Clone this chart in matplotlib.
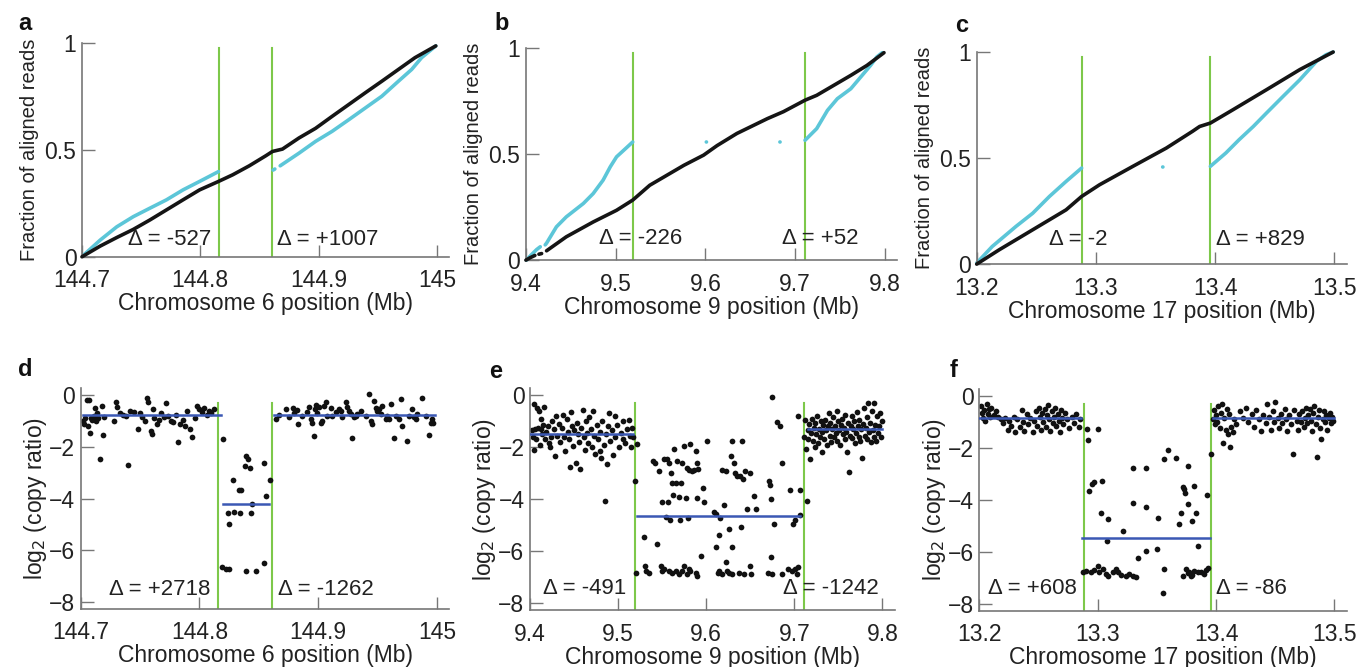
"""Breakpoint panels: cumulative read fractions (top) and copy-ratio scatter (bottom)."""

import matplotlib

matplotlib.use("Agg")
import matplotlib.pyplot as plt
import numpy as np

plt.rcParams["font.family"] = ["Liberation Sans", "DejaVu Sans"]

# ---------------------------------------------------------------- panel a / d
A_XTICKS = [144.7, 144.8, 144.9, 145.0]
A_XTICKLABELS = ["144.7", "144.8", "144.9", "145"]
A_BREAKS = [144.8155, 144.861]
A_BLACK_X = [144.700, 144.7154, 144.7294, 144.7434, 144.7574, 144.7714, 144.7854,
             144.7994, 144.8154, 144.8274, 144.8414, 144.8554, 144.861, 144.8694,
             144.8834, 144.8974, 144.9114, 144.9254, 144.9394, 144.9534, 144.9674,
             144.9814, 144.999]
A_BLACK_Y = [0.0, 0.05, 0.09, 0.128, 0.172, 0.219, 0.266, 0.3125, 0.352, 0.383,
             0.425, 0.472, 0.492, 0.503, 0.555, 0.60, 0.656, 0.711, 0.766, 0.82,
             0.875, 0.93, 0.985]
A_CYAN_X = [144.7014, 144.7154, 144.7294, 144.7434, 144.7574, 144.7714, 144.7854,
            144.7994, 144.8154, np.nan, 144.8615, 144.863, np.nan, 144.8675,
            144.8834, 144.8974, 144.9114, 144.9254, 144.9394, 144.9534, 144.9674,
            144.9786, 144.987, 144.999]
A_CYAN_Y = [0.008, 0.078, 0.14, 0.1875, 0.227, 0.266, 0.3125, 0.352, 0.398, np.nan,
            0.405, 0.41, np.nan, 0.425, 0.484, 0.539, 0.586, 0.64, 0.695, 0.75,
            0.82, 0.875, 0.93, 0.985]
A_DELTAS = ["\u0394 = -527", "\u0394 = +1007"]
A_DELTA_X = [144.739, 144.865]

D_X = [
    144.702, 144.703, 144.704, 144.705, 144.706, 144.707, 144.708, 144.709, 144.710,
    144.711, 144.712, 144.713, 144.714, 144.715, 144.716, 144.718, 144.719, 144.720,
    144.728, 144.730, 144.731, 144.733, 144.736, 144.738, 144.740, 144.742, 144.745,
    144.748, 144.750, 144.752, 144.754, 144.756, 144.757, 144.759, 144.760, 144.761,
    144.762, 144.764, 144.766, 144.768, 144.770, 144.772, 144.774, 144.776, 144.778,
    144.780, 144.782, 144.784, 144.786, 144.788, 144.790, 144.792, 144.794, 144.796,
    144.798, 144.800, 144.802, 144.804, 144.806, 144.808, 144.810, 144.812,
    # deletion
    144.8196, 144.819, 144.8224, 144.8238, 144.8246, 144.825, 144.828, 144.829,
    144.833, 144.834, 144.835, 144.838, 144.839, 144.839, 144.841, 144.8425, 144.8434,
    144.844, 144.848, 144.8546, 144.8546, 144.856, 144.8596,
    # right flank
    144.8644, 144.8672, 144.8728, 144.8756, 144.8784, 144.8798, 144.8826, 144.8834,
    144.8868, 144.891, 144.8924, 144.8938, 144.8952, 144.8966, 144.897, 144.898,
    144.8994, 144.9008, 144.9022, 144.9036, 144.905, 144.9064, 144.9078, 144.9106,
    144.912, 144.9148, 144.9176, 144.919, 144.9204, 144.9232, 144.9246, 144.926,
    144.9274, 144.9288, 144.9302, 144.9316, 144.933, 144.9358, 144.94, 144.9428,
    144.9442, 144.9456, 144.947, 144.9484, 144.9498, 144.9512, 144.9526, 144.954,
    144.9568, 144.9582, 144.9596, 144.961, 144.9638, 144.9652, 144.968, 144.9694,
    144.9708, 144.975, 144.9764, 144.9792, 144.9806, 144.982, 144.9834, 144.9876,
    144.9904, 144.9932, 144.9946, 144.996, 144.997,
]
D_Y = [
    -1.0, -1.1, -0.9, -0.2, -1.2, -0.2, -1.45, -0.9, -0.95, -0.8, -0.5, -1.0, -0.7,
    -0.9, -2.45, -0.4, -1.55, -0.85, -1.0, -0.25, -0.45, -0.7, -0.75, -0.8, -2.7,
    -0.6, -0.65, -1.3, -0.7, -0.85, -1.0, -0.1, -0.25, -1.4, -1.5, -0.55, -0.9, -1.1,
    -0.95, -0.7, -0.85, -0.3, -0.8, -1.0, -1.05, -0.75, -1.8, -1.1, -0.95, -1.2, -0.6,
    -1.3, -1.6, -0.9, -0.4, -0.55, -0.65, -0.5, -0.75, -0.6, -0.7, -0.55,
    -1.70, -6.65, -6.72, -4.55, -5.0, -6.72, -3.3, -4.5, -3.65, -4.55, -3.67, -2.75,
    -2.35, -6.82, -2.45, -2.8, -4.55, -4.2, -6.82, -2.62, -6.5, -3.9, -3.3,
    -0.93, -0.77, -0.54, -0.86, -0.48, -0.70, -0.57, -1.12, -0.80, -0.67, -0.44,
    -0.93, -1.06, -1.57, -0.54, -0.39, -0.70, -0.44, -1.06, -0.99, -0.41, -0.28,
    -0.80, -0.48, -0.80, -0.67, -0.54, -0.61, -0.86, -0.28, -0.44, -0.61, -0.74,
    -1.64, -0.86, -0.80, -0.74, -0.61, -0.80, 0.04, -0.99, -1.12, -0.22, -0.48,
    -0.61, -0.54, -0.74, -0.41, -0.93, -0.80, -0.93, -0.35, -1.64, -0.80, -0.93,
    -0.15, -1.19, -1.77, -0.80, -0.54, -0.86, -0.93, -0.74, -0.09, -0.80, -1.55,
    -1.06, -0.93, -1.06,
]
D_SEGMENTS = [(144.702, 144.818, -0.78), (144.820, 144.859, -4.2), (144.863, 144.998, -0.75)]
D_DELTAS = ["\u0394 = +2718", "\u0394 = -1262"]
D_DELTA_X = [144.724, 144.8665]

# ---------------------------------------------------------------- panel b / e
B_XTICKS = [9.4, 9.5, 9.6, 9.7, 9.8]
B_XTICKLABELS = ["9.4", "9.5", "9.6", "9.7", "9.8"]
B_BREAKS = [9.519, 9.711]
B_BLACK_X = [9.400, 9.405, 9.410, np.nan, 9.4145, 9.4175, np.nan, 9.423, 9.445,
             9.475, 9.501, 9.519, 9.538, 9.557, 9.576, 9.598, 9.613, 9.635, 9.669,
             9.687, 9.711, 9.724, 9.743, 9.762, 9.780, 9.799]
B_BLACK_Y = [0.0, 0.012, 0.022, np.nan, 0.028, 0.031, np.nan, 0.044, 0.11, 0.18,
             0.235, 0.283, 0.353, 0.40, 0.447, 0.495, 0.54, 0.597, 0.667, 0.70, 0.754,
             0.777, 0.824, 0.871, 0.918, 0.978]
B_CYAN_X = [9.4005, 9.406, 9.412, 9.416, np.nan, 9.4215, 9.423, 9.434, 9.445, 9.464,
            9.475, 9.486, 9.494, 9.501, 9.509, 9.519, np.nan, 9.601, 9.6012, np.nan,
            9.683, 9.6832, np.nan, 9.711, 9.724, 9.736, 9.747, 9.762, 9.773, 9.784,
            9.791, 9.797]
B_CYAN_Y = [0.0, 0.025, 0.05, 0.063, np.nan, 0.072, 0.08, 0.157, 0.204, 0.267,
            0.314, 0.377, 0.44, 0.487, 0.518, 0.557, np.nan, 0.557, 0.557, np.nan,
            0.557, 0.557, np.nan, 0.565, 0.62, 0.706, 0.761, 0.808, 0.863, 0.918,
            0.958, 0.978]
B_DELTAS = ["\u0394 = -226", "\u0394 = +52"]
B_DELTA_X = [9.481, 9.685]

E_X = [
    9.402, 9.403, 9.404, 9.405, 9.406, 9.407, 9.408, 9.409, 9.410, 9.411, 9.412,
    9.413, 9.414, 9.415, 9.416, 9.417, 9.418, 9.420, 9.421, 9.423, 9.424, 9.425,
    9.427, 9.428, 9.430, 9.431, 9.433, 9.434, 9.436, 9.437, 9.439, 9.440, 9.442,
    9.443, 9.444, 9.445, 9.446, 9.448, 9.449, 9.450, 9.452, 9.453, 9.455, 9.456,
    9.457, 9.458, 9.460, 9.461, 9.462, 9.463, 9.465, 9.466, 9.467, 9.469, 9.470,
    9.471, 9.473, 9.474, 9.476, 9.477, 9.479, 9.480, 9.481, 9.482, 9.484, 9.485,
    9.486, 9.487, 9.488, 9.490, 9.491, 9.493, 9.494, 9.496, 9.497, 9.499, 9.501,
    9.503, 9.505, 9.506, 9.508, 9.510, 9.512, 9.513, 9.515, 9.516, 9.517,
    # deletion, scattered part
    9.5196, 9.522, 9.529, 9.540, 9.542, 9.544, 9.546, 9.550, 9.552, 9.554, 9.556,
    9.557, 9.558, 9.559, 9.560, 9.561, 9.562, 9.564, 9.566, 9.567, 9.569, 9.570,
    9.571, 9.573, 9.575, 9.577, 9.578, 9.579, 9.580, 9.582, 9.584, 9.586, 9.588,
    9.590, 9.590, 9.591, 9.594, 9.596, 9.598, 9.601, 9.609, 9.611, 9.611, 9.614,
    9.616, 9.618, 9.620, 9.622, 9.626, 9.628, 9.629, 9.629, 9.631, 9.633, 9.635,
    9.638, 9.639, 9.641, 9.642, 9.644, 9.646, 9.650, 9.654, 9.656, 9.671, 9.672,
    9.673, 9.674, 9.675, 9.677, 9.680, 9.684, 9.686, 9.695, 9.699, 9.701, 9.704,
    9.707, 9.707,
    # deletion, floor
    9.520, 9.530, 9.532, 9.535, 9.549, 9.550, 9.552, 9.558, 9.561, 9.566, 9.569,
    9.573, 9.575, 9.578, 9.580, 9.582, 9.588, 9.590, 9.613, 9.615, 9.618, 9.622,
    9.624, 9.626, 9.629, 9.637, 9.643, 9.650, 9.651, 9.670, 9.675, 9.686, 9.693,
    9.697, 9.701, 9.703, 9.704,
    # right flank
    9.711, 9.712, 9.713, 9.714, 9.715, 9.716, 9.717, 9.718, 9.719, 9.720, 9.721,
    9.722, 9.723, 9.724, 9.725, 9.726, 9.727, 9.728, 9.729, 9.730, 9.731, 9.732,
    9.733, 9.734, 9.735, 9.736, 9.737, 9.738, 9.739, 9.740, 9.741, 9.742, 9.743,
    9.744, 9.745, 9.746, 9.747, 9.748, 9.749, 9.750, 9.751, 9.752, 9.753, 9.754,
    9.755, 9.756, 9.757, 9.758, 9.759, 9.760, 9.761, 9.762, 9.763, 9.764, 9.765,
    9.766, 9.767, 9.768, 9.769, 9.770, 9.771, 9.772, 9.773, 9.774, 9.775, 9.776,
    9.777, 9.778, 9.779, 9.780, 9.781, 9.782, 9.783, 9.784, 9.785, 9.786, 9.787,
    9.788, 9.789, 9.790, 9.791, 9.792, 9.793, 9.794, 9.795, 9.796, 9.797, 9.798,
    9.799,
]
E_Y = [
    -1.35, -1.6, -0.35, -2.1, -1.3, -1.7, -0.5, -1.25, -0.6, -1.9, -1.3, -0.9, -1.5,
    -1.15, -0.45, -1.7, -1.4, -1.2, -1.85, -2.0, -1.6, -1.0, -1.3, -2.35, -0.8, -1.55,
    -1.1, -1.8, -1.25, -0.75, -1.6, -2.15, -0.9, -1.4, -1.7, -2.75, -0.65, -1.2, -1.95,
    -1.35, -2.6, -1.05, -1.5, -1.8, -2.85, -1.25, -0.55, -1.6, -2.1, -1.0, -1.45,
    -1.85, -0.85, -1.3, -2.0, -0.6, -1.55, -2.25, -1.15, -1.7, -2.15, -1.4, -2.4,
    -1.0, -1.9, -4.05, -1.5, -2.65, -1.2, -0.7, -1.75, -1.35, -2.3, -0.8, -1.6, -1.15,
    -2.0, -1.45, -1.7, -1.0, -1.85, -1.3, -0.95, -1.55, -2.0, -1.25, -1.6,
    -3.31, -1.88, -5.45, -2.53, -2.60, -5.71, -2.92, -4.09, -2.44, -4.68, -2.47,
    -4.09, -2.60, -4.81, -2.99, -3.38, -3.83, -2.08, -3.38, -2.53, -3.90, -4.81,
    -3.38, -2.60, -1.95, -3.96, -2.79, -4.74, -2.88, -1.88, -2.92, -2.86, -2.14,
    -2.60, -3.96, -2.83, -6.17, -3.57, -4.09, -1.75, -4.48, -4.55, -5.84, -5.39,
    -4.74, -2.86, -4.22, -2.92, -5.13, -2.34, -5.84, -1.75, -2.60, -2.99, -3.09,
    -3.12, -5.06, -1.75, -3.22, -2.92, -4.39, -2.99, -3.87, -4.39, -3.31, -3.44,
    -4.00, -6.23, -0.05, -4.94, -1.04, -1.17, -2.60, -3.64, -4.94, -4.81, -0.78,
    -3.64, -4.61,
    -6.82, -6.56, -6.75, -6.82, -6.56, -6.75, -6.69, -6.75, -6.82, -6.75, -6.88,
    -6.75, -6.56, -6.88, -6.69, -6.75, -6.82, -6.95, -6.82, -6.75, -6.88, -6.43,
    -6.75, -6.82, -6.88, -6.82, -6.88, -6.56, -6.88, -6.82, -6.88, -6.88, -6.69,
    -6.75, -6.69, -6.88, -6.62,
    -1.6, -0.95, -2.05, -4.05, -1.35, -1.7, -1.1, -2.45, -1.45, -0.9, -1.75, -1.25,
    -2.0, -1.05, -1.5, -0.8, -1.85, -1.3, -1.6, -1.0, -2.2, -1.4, -1.15, -1.7, -0.95,
    -1.35, -1.9, -1.2, -0.7, -1.55, -1.05, -1.8, -1.3, -0.85, -1.6, -1.2, -1.45, -0.6,
    -1.75, -1.0, -1.35, -1.9, -1.15, -0.9, -1.5, -1.25, -1.7, -0.75, -1.4, -2.2,
    -1.05, -2.95, -1.55, -1.2, -0.8, -1.65, -1.3, -1.0, -1.85, -1.45, -0.65, -1.2,
    -1.6, -0.95, -1.75, -1.3, -2.4, -1.1, -0.5, -1.55, -1.25, -0.85, -1.7, -0.3, -1.4,
    -1.05, -1.8, -0.6, -1.35, -1.6, -0.3, -1.15, -1.75, -0.8, -1.45, -1.2, -0.7,
    -1.6, -1.0,
]
E_SEGMENTS = [(9.400, 9.517, -1.5), (9.521, 9.706, -4.65), (9.715, 9.800, -1.3)]
E_DELTAS = ["\u0394 = -491", "\u0394 = -1242"]
E_DELTA_X = [9.415, 9.687]

# ---------------------------------------------------------------- panel c / f
C_XTICKS = [13.2, 13.3, 13.4, 13.5]
C_XTICKLABELS = ["13.2", "13.3", "13.4", "13.5"]
C_BREAKS = [13.288, 13.396]
C_BLACK_X = [13.200, 13.219, 13.247, 13.275, 13.288, 13.303, 13.331, 13.359, 13.381,
             13.387, 13.396, 13.415, 13.443, 13.471, 13.499]
C_BLACK_Y = [0.0, 0.068, 0.162, 0.256, 0.319, 0.374, 0.461, 0.547, 0.626, 0.649,
             0.665, 0.728, 0.822, 0.917, 1.0]
C_CYAN_X = [13.200, 13.213, 13.233, 13.247, 13.261, 13.275, 13.288, np.nan, 13.356,
            13.3562, np.nan, 13.396, 13.409, 13.420, 13.432, 13.443, 13.457, 13.471,
            13.485, 13.493, 13.499]
C_CYAN_Y = [0.005, 0.083, 0.178, 0.24, 0.319, 0.39, 0.453, np.nan, 0.458, 0.458,
            np.nan, 0.461, 0.524, 0.586, 0.649, 0.712, 0.791, 0.869, 0.956, 0.987,
            1.0]
C_DELTAS = ["\u0394 = -2", "\u0394 = +829"]
C_DELTA_X = [13.261, 13.4007]

F_X = [
    13.201, 13.202, 13.203, 13.204, 13.205, 13.206, 13.207, 13.208, 13.209, 13.210,
    13.212, 13.214, 13.216, 13.218, 13.220, 13.222, 13.224, 13.225, 13.227, 13.229,
    13.230, 13.232, 13.234, 13.236, 13.237, 13.238, 13.240, 13.241, 13.243, 13.245,
    13.246, 13.248, 13.249, 13.250, 13.251, 13.252, 13.253, 13.254, 13.255, 13.256,
    13.257, 13.258, 13.259, 13.260, 13.261, 13.262, 13.263, 13.264, 13.265, 13.266,
    13.267, 13.268, 13.269, 13.270, 13.271, 13.272, 13.274, 13.276, 13.278, 13.280,
    13.282, 13.284, 13.285,
    # deletion, scattered part
    13.291, 13.292, 13.300, 13.293, 13.295, 13.297, 13.304, 13.303, 13.309, 13.308,
    13.321, 13.330, 13.330, 13.334, 13.341, 13.341, 13.341, 13.350, 13.351, 13.355,
    13.356, 13.356, 13.359, 13.366, 13.369, 13.370, 13.372, 13.373, 13.374, 13.376,
    13.376, 13.379, 13.380, 13.381, 13.383, 13.385, 13.392,
    # deletion, floor
    13.2873, 13.290, 13.2944, 13.2972, 13.300, 13.3014, 13.3042, 13.307, 13.3085,
    13.3127, 13.3155, 13.3169, 13.3197, 13.324, 13.3268, 13.3296, 13.3324, 13.3718,
    13.3747, 13.376, 13.3775, 13.380, 13.3817, 13.3845, 13.3873, 13.390, 13.3915,
    13.393,
    # right flank
    13.396, 13.397, 13.398, 13.399, 13.400, 13.401, 13.402, 13.403, 13.404, 13.405,
    13.406, 13.407, 13.408, 13.409, 13.410, 13.411, 13.412, 13.413, 13.414, 13.415,
    13.417, 13.420, 13.423, 13.425, 13.427, 13.430, 13.432, 13.434, 13.436, 13.438,
    13.440, 13.442, 13.443, 13.445, 13.446, 13.448, 13.449, 13.450, 13.452, 13.453,
    13.455, 13.456, 13.458, 13.459, 13.460, 13.462, 13.463, 13.465, 13.466, 13.468,
    13.469, 13.470, 13.472, 13.473, 13.474, 13.475, 13.476, 13.477, 13.478, 13.479,
    13.480, 13.481, 13.482, 13.483, 13.484, 13.485, 13.486, 13.487, 13.488, 13.489,
    13.490, 13.491, 13.492, 13.493, 13.494, 13.495, 13.496, 13.497, 13.498, 13.499,
]
F_Y = [
    -0.4, -0.65, -0.85, -0.55, -0.95, -0.3, -0.7, -0.5, -0.8, -0.45, -0.75, -0.6,
    -0.8, -0.9, -1.05, -0.85, -1.3, -0.95, -1.15, -0.8, -1.4, -0.9, -1.2, -0.55, -1.0,
    -1.35, -0.7, -1.1, -0.85, -1.4, -0.95, -0.6, -1.15, -0.45, -0.8, -1.3, -0.65, -1.0,
    -0.5, -1.2, -0.75, -0.35, -0.9, -1.35, -0.6, -1.05, -0.8, -0.45, -1.15, -0.7,
    -0.95, -1.4, -0.55, -0.85, -1.1, -0.65, -0.9, -1.25, -0.8, -1.05, -0.7, -1.2, -0.9,
    -1.28, -1.69, -1.28, -3.65, -3.40, -3.33, -3.27, -4.49, -4.74, -5.58, -5.19,
    -2.79, -4.10, -6.22, -2.79, -4.29, -5.96, -5.90, -4.68, -7.56, -2.44, -6.67,
    -2.08, -2.37, -4.94, -4.49, -3.49, -3.59, -3.72, -2.69, -4.17, -6.92, -4.81,
    -3.46, -4.49, -5.77, -3.82,
    -6.79, -6.73, -6.77, -6.69, -6.54, -6.77, -6.64, -6.86, -6.92, -6.79, -6.64,
    -6.77, -6.90, -6.92, -6.86, -6.92, -6.95, -6.92, -6.64, -6.82, -6.77, -6.90,
    -6.73, -6.79, -6.77, -6.86, -6.69, -6.60,
    -2.25, -0.9, -0.55, -1.1, -0.75, -1.0, -0.4, -1.25, -0.65, -0.3, -1.8, -0.85, -1.3,
    -0.5, -1.45, -0.7, -1.95, -1.2, -1.4, -0.9, -1.1, -0.6, -0.85, -0.45, -1.0, -0.7,
    -1.2, -0.55, -0.9, -1.35, -0.75, -1.05, -0.3, -0.8, -1.3, -0.6, -1.0, -0.25,
    -0.85, -1.25, -0.7, -1.05, -0.5, -0.9, -1.35, -0.75, -1.1, -2.25, -0.55, -0.95,
    -1.3, -0.7, -1.0, -0.6, -1.2, -0.85, -0.45, -1.05, -0.75, -0.5, -0.95, -1.35,
    -0.65, -0.4, -1.1, -2.35, -0.8, -0.55, -1.25, -1.65, -0.9, -0.6, -1.0, -0.75,
    -1.3, -0.85, -0.65, -1.05, -0.8, -0.95,
]
F_SEGMENTS = [(13.200, 13.286, -0.85), (13.287, 13.395, -5.45), (13.397, 13.500, -0.85)]
F_DELTAS = ["\u0394 = +608", "\u0394 = -86"]
F_DELTA_X = [13.207, 13.400]

CHROMS = ["6", "9", "17"]

GREEN = "#7dc84a"
CYAN = "#5cc6d8"
BLUE = "#3b58b4"
AXIS_GRAY = "#777777"
TEXT = "#222222"
TICK_FS = 16.5
LABEL_FS = 16.5
TOP_YLABEL_FS = 14.5
DELTA_FS = 16


def style_axes(ax, xticks, xticklabels, xmin, xmax):
    for side in ("top", "right"):
        ax.spines[side].set_visible(False)
    for side in ("left", "bottom"):
        ax.spines[side].set_color(AXIS_GRAY)
        ax.spines[side].set_linewidth(1.2)
    ax.tick_params(direction="in", length=9, width=1.0, color=AXIS_GRAY,
                   labelsize=TICK_FS, labelcolor=TEXT)
    ax.tick_params(axis="x", pad=9)
    ax.tick_params(axis="y", pad=4)
    ax.set_xticks(xticks)
    ax.set_xticklabels(xticklabels)
    ax.set_xlim(xmin, xmax + 0.035 * (xmax - xmin))


fig = plt.figure(figsize=(13.66, 6.67), dpi=100)

top_rects = [[0.060, 0.615, 0.269, 0.321], [0.385, 0.610, 0.272, 0.318],
             [0.715, 0.604, 0.271, 0.318]]
bottom_rects = [[0.059, 0.087, 0.270, 0.331], [0.388, 0.085, 0.267, 0.333],
                [0.717, 0.084, 0.269, 0.333]]

top_data = [
    (A_XTICKS, A_XTICKLABELS, A_BREAKS, A_BLACK_X, A_BLACK_Y, A_CYAN_X, A_CYAN_Y,
     A_DELTAS, A_DELTA_X, 0.08),
    (B_XTICKS, B_XTICKLABELS, B_BREAKS, B_BLACK_X, B_BLACK_Y, B_CYAN_X, B_CYAN_Y,
     B_DELTAS, B_DELTA_X, 0.10),
    (C_XTICKS, C_XTICKLABELS, C_BREAKS, C_BLACK_X, C_BLACK_Y, C_CYAN_X, C_CYAN_Y,
     C_DELTAS, C_DELTA_X, 0.115),
]
bottom_data = [
    (A_XTICKS, A_XTICKLABELS, A_BREAKS, D_X, D_Y, D_SEGMENTS, D_DELTAS, D_DELTA_X, -7.5),
    (B_XTICKS, B_XTICKLABELS, B_BREAKS, E_X, E_Y, E_SEGMENTS, E_DELTAS, E_DELTA_X, -7.45),
    (C_XTICKS, C_XTICKLABELS, C_BREAKS, F_X, F_Y, F_SEGMENTS, F_DELTAS, F_DELTA_X, -7.42),
]

top_letters = [("a", 0.013, 0.955), ("b", 0.362, 0.955), ("c", 0.699, 0.952)]
bottom_letters = [("d", 0.013, 0.437), ("e", 0.358, 0.433), ("f", 0.695, 0.435)]

for rect, data, chrom, letter in zip(top_rects, top_data, CHROMS, top_letters):
    xticks, xlabels, breaks, bx, by, cx, cy, deltas, delta_x, delta_y = data
    ax = fig.add_axes(rect)
    style_axes(ax, xticks, xlabels, xticks[0], xticks[-1])
    ax.set_ylim(0, 1.0)
    ax.set_yticks([0, 0.5, 1])
    ax.set_yticklabels(["0", "0.5", "1"])
    for b in breaks:
        ax.plot([b, b], [0, 0.975], color=GREEN, lw=1.5, zorder=1)
    ax.plot(cx, cy, color=CYAN, lw=2.6, solid_capstyle="round", zorder=2, clip_on=False)
    ax.plot(bx, by, color="#151515", lw=2.6, solid_capstyle="round", zorder=3,
            clip_on=False)
    for text, x in zip(deltas, delta_x):
        ax.text(x, delta_y, text, fontsize=DELTA_FS, color=TEXT, va="center", ha="left")
    ax.set_xlabel(f"Chromosome {chrom} position (Mb)", fontsize=LABEL_FS, color=TEXT,
                  labelpad=0)
    ax.set_ylabel("Fraction of aligned reads", fontsize=TOP_YLABEL_FS, color=TEXT,
                  labelpad=4)
    fig.text(letter[1], letter[2], letter[0], fontsize=17, fontweight="bold",
             color="#111111")

for rect, data, chrom, letter in zip(bottom_rects, bottom_data, CHROMS, bottom_letters):
    xticks, xlabels, breaks, px, py, segments, deltas, delta_x, delta_y = data
    ax = fig.add_axes(rect)
    style_axes(ax, xticks, xlabels, xticks[0], xticks[-1])
    ax.set_ylim(-8.27, 0.27)
    ax.set_yticks([0, -2, -4, -6, -8])
    for b in breaks:
        ax.plot([b, b], [-8.27, -0.3], color=GREEN, lw=1.5, zorder=1)
    ax.scatter(px, py, s=17, color="#111111", linewidths=0, zorder=2)
    for x0, x1, level in segments:
        ax.plot([x0, x1], [level, level], color=BLUE, lw=1.8, zorder=3)
    for text, x in zip(deltas, delta_x):
        ax.text(x, delta_y, text, fontsize=DELTA_FS, color=TEXT, va="center", ha="left")
    ax.set_xlabel(f"Chromosome {chrom} position (Mb)", fontsize=LABEL_FS, color=TEXT,
                  labelpad=0)
    ax.set_ylabel("log$_2$ (copy ratio)", fontsize=LABEL_FS, color=TEXT, labelpad=0)
    fig.text(letter[1], letter[2], letter[0], fontsize=17, fontweight="bold",
             color="#111111")

fig.savefig("out.png", dpi=100)
plt.close(fig)
